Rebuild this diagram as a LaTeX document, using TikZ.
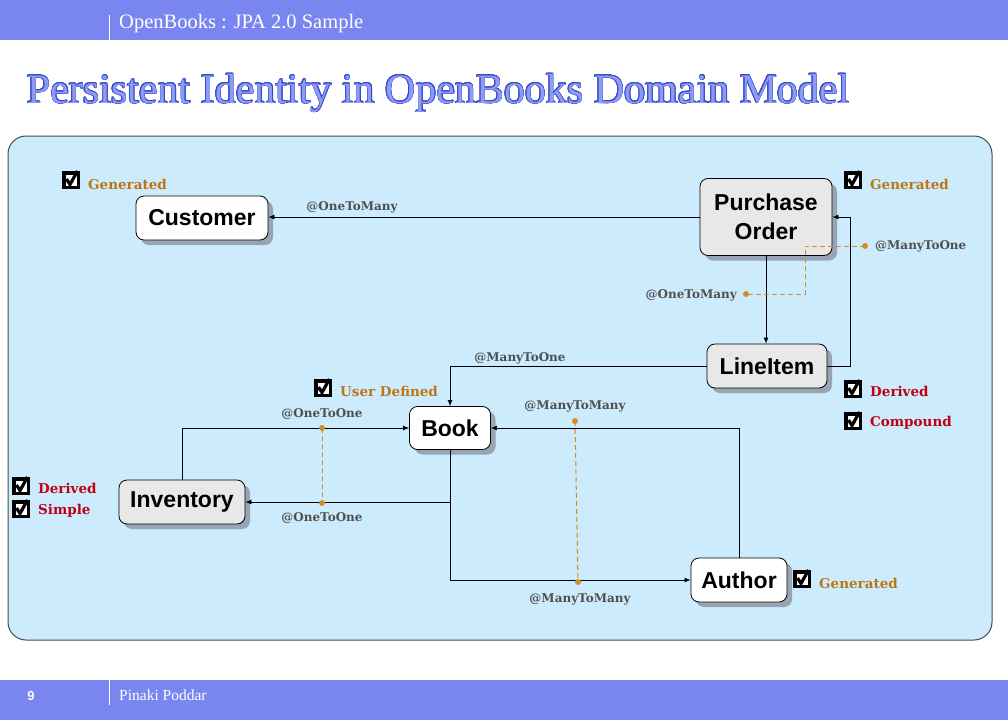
\documentclass[tikz,border=0pt]{standalone}
\usepackage{fontspec}
\usepackage{contour}
\setmainfont{Liberation Serif}
\setsansfont{Liberation Sans}
\newfontfamily\lblfont{DejaVu Serif}
\usetikzlibrary{shadows,arrows.meta}

\definecolor{barblue}{RGB}{122,134,240}
\definecolor{panelblue}{RGB}{204,235,252}
\definecolor{titlefill}{RGB}{140,156,244}
\definecolor{titleedge}{RGB}{60,76,200}
\definecolor{nodegray}{RGB}{232,232,232}
\definecolor{shadowgray}{RGB}{150,164,180}
\definecolor{gold}{RGB}{190,118,20}
\definecolor{crimson}{RGB}{190,0,20}
\definecolor{dashorange}{RGB}{214,140,40}
\definecolor{lblgray}{RGB}{80,80,80}

\contourlength{0.55pt}

\tikzset{
  entity/.style={draw=black, line width=0.8pt, rounded corners=8pt, fill=white,
    font=\sffamily\bfseries\fontsize{23}{29}\selectfont, align=center,
    minimum height=44pt, inner sep=0pt,
    drop shadow={shadow xshift=5pt, shadow yshift=-5pt, fill=shadowgray, opacity=1}},
  greyent/.style={entity, fill=nodegray},
  rel/.style={draw=black, line width=0.8pt, -{Latex[length=6pt,width=5pt]}},
  assoc/.style={draw=dashorange, line width=1pt, dash pattern=on 5pt off 3pt},
  dot/.style={fill=dashorange},
  lbl/.style={font=\lblfont\bfseries\fontsize{12}{14}\selectfont, text=lblgray, inner sep=0pt},
  chk/.style={font=\lblfont\bfseries\fontsize{13.5}{16}\selectfont, inner sep=0pt, anchor=west},
  tickbox/.pic={
    \fill[black] (-9,-9) rectangle (9,9);
    \fill[white] (-5.5,-5.5) rectangle (5.5,5.5);
    \draw[black, line width=3.2pt] (-4.5,-1) -- (-1,4.5) -- (6.5,-9);
  }
}

\begin{document}
\begin{tikzpicture}[x=1pt,y=-1pt]
\useasboundingbox (0,0) rectangle (1008,720);
\fill[white] (0,0) rectangle (1008,720);

% header and footer bars
\fill[barblue] (0,0) rectangle (1008,40);
\fill[barblue] (0,680) rectangle (1008,720);
\draw[white, line width=1pt] (109,15) -- (109,40);
\draw[white, line width=1pt] (109,680) -- (109,705);
\node[anchor=base west, text=white, font=\fontsize{20.5}{22}\selectfont, inner sep=0pt] (hdr) at (119,28) {OpenBooks : JPA 2.0 Sample};
\node[anchor=base, text=white, font=\sffamily\bfseries\fontsize{13}{15}\selectfont, inner sep=0pt] (pg) at (31,700) {9};
\node[anchor=base west, text=white, font=\fontsize{15.5}{17}\selectfont, inner sep=0pt] (auth-name) at (119,700) {Pinaki Poddar};

% title
\node[anchor=base west, inner sep=0pt, font=\fontsize{42}{46}\selectfont] (title) at (27,103)
  {\contour{titleedge}{\textcolor{titlefill}{Persistent Identity in OpenBooks Domain Model}}};

% model panel
\draw[fill=panelblue, draw=black!70, line width=1pt, rounded corners=18pt] (8,136) rectangle (992,640);

% entities
\node[entity, minimum width=132pt] (cust) at (202,218) {Customer};
\node[greyent, minimum width=132pt, minimum height=77pt] (po) at (766,217) {Purchase\\Order};
\node[greyent, minimum width=120pt] (li) at (767,366) {LineItem};
\node[entity, minimum width=81pt, minimum height=43pt] (book) at (450,428) {Book};
\node[greyent, minimum width=126pt] (inv) at (182,502) {Inventory};
\node[entity, minimum width=96pt] (auth) at (739,580) {Author};

% relations
\draw[rel] (po.west) -- (po.west -| cust.east);
\draw[rel] (po.south) -- (po.south |- li.north);
\draw[rel] (li.east) -- ++(23,0) |- (po.east);
\draw[rel] (li.west) -| (book.north);
\draw[rel] (inv.north) |- (book.west);
\draw[rel] (book.south) |- (inv.east);
\draw[rel] (book.south) |- (auth.west);
\draw[rel] (auth.north) |- (book.east);

% bidirectional pairings
\coordinate (oo1) at (322,428);
\coordinate (oo2) at (322,503);
\coordinate (mm1) at (575,421);
\coordinate (mm2) at (578,582);
\coordinate (mo) at (865,246);
\coordinate (om) at (746,294);
\draw[assoc] (oo1) -- (oo2);
\draw[assoc] (mm1) -- (mm2);
\draw[assoc] (mo) -- (805,246) -- (805,294) -- (om);
\foreach \p in {oo1,oo2,mm1,mm2,mo,om} \fill[dot] (\p) circle (3pt);

% relation labels
\node[lbl] (l1) at (352,207) {@OneToMany};
\node[lbl, anchor=west] (l2) at (875,246) {@ManyToOne};
\node[lbl, anchor=east] (l3) at (737,295) {@OneToMany};
\node[lbl] (l4) at (520,358) {@ManyToOne};
\node[lbl] (l5) at (322,414) {@OneToOne};
\node[lbl] (l6) at (322,518) {@OneToOne};
\node[lbl] (l7) at (575,406) {@ManyToMany};
\node[lbl] (l8) at (580,599) {@ManyToMany};

% identity annotations
\pic at (71,180) {tickbox};
\node[chk, text=gold] (c1) at (88,184) {Generated};
\pic at (853,180) {tickbox};
\node[chk, text=gold] (c2) at (870,184) {Generated};
\pic at (323,388) {tickbox};
\node[chk, text=gold] (c3) at (340,391) {User Defined};
\pic at (853,389) {tickbox};
\node[chk, text=crimson] (c4) at (870,391) {Derived};
\pic at (853,421) {tickbox};
\node[chk, text=crimson] (c5) at (870,423) {Compound};
\pic at (21,486) {tickbox};
\node[chk, text=crimson] (c6) at (38,488) {Derived};
\pic at (21,509) {tickbox};
\node[chk, text=crimson] (c7) at (38,511) {Simple};
\pic at (802,579) {tickbox};
\node[chk, text=gold] (c8) at (819,583) {Generated};
\end{tikzpicture}
\end{document}
